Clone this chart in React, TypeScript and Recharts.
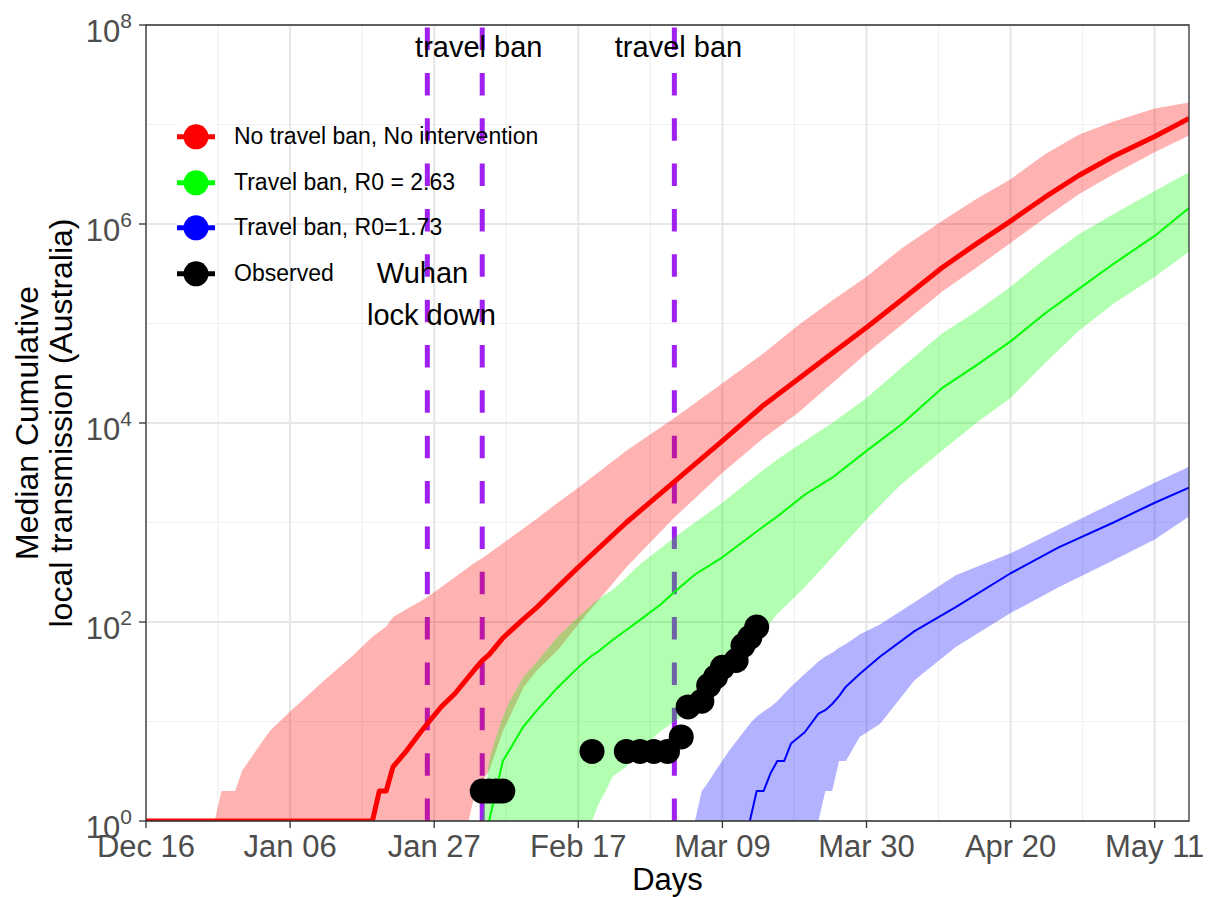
import React from 'react';
import {
  ComposedChart,
  Area,
  Line,
  Scatter,
  XAxis,
  YAxis,
  ReferenceLine,
  ReferenceArea,
  ReferenceDot,
  Label,
} from 'recharts';

const FONT = '"Liberation Sans", Arial, Helvetica, sans-serif';

// x axis: days since Dec 16 2019
const xTickDays = [0, 21, 42, 63, 84, 105, 126, 147];
const xTickLabels = ['Dec 16', 'Jan 06', 'Jan 27', 'Feb 17', 'Mar 09', 'Mar 30', 'Apr 20', 'May 11'];
const xMinorDays = [10.5, 31.5, 52.5, 73.5, 94.5, 115.5, 136.5];
const yTicks = [1, 1e2, 1e4, 1e6, 1e8];
const yTickExponents = ['0', '2', '4', '6', '8'];
const yMinorTicks = [1e1, 1e3, 1e5, 1e7];

// No travel ban, No intervention
const redDays = [0, 10, 11, 13, 14, 18, 21, 26, 30, 33, 34, 35, 36, 38, 40, 41, 43, 45, 47, 48, 49, 50, 52, 55, 57, 60, 63, 70, 77, 84, 90, 95, 100, 105, 110, 116, 121, 126, 131, 136, 141, 147, 152];
const redMedian = [1, 1, 1, 1, 1, 1, 1, 1, 1, 1, 2, 2, 3.5, 5.1, 7.8, 9.5, 14, 19, 28, 34, 41, 47, 69, 107, 141, 224, 355, 1000, 2570, 6600, 15100, 27500, 50100, 91200, 170000, 363000, 631000, 1070000, 1860000, 3090000, 4790000, 7590000, 11500000];
const redLow = [1, 1, 1, 1, 1, 1, 1, 1, 1, 1, 1, 1, 1, 1, 1, 1, 1, 1, 1, 2, 2.5, 3.2, 8, 22, 33, 52, 95, 355, 1120, 3160, 7080, 12600, 25100, 50100, 95500, 209000, 363000, 646000, 1150000, 2000000, 3160000, 5250000, 7760000];
const redHigh = [1, 1, 2, 2, 3.2, 8, 12.6, 26, 45, 71, 80, 90, 112, 135, 162, 178, 224, 282, 355, 398, 436, 490, 617, 871, 1100, 1580, 2240, 5250, 11200, 25100, 50100, 95500, 170000, 295000, 562000, 1070000, 1780000, 2820000, 5010000, 7940000, 10700000, 14500000, 16600000];

// Travel ban, R0 = 2.63
const greenDays = [49, 50, 51, 52, 53, 55, 57, 60, 63, 65, 66, 67, 68, 70, 72, 75, 77, 80, 84, 89, 92, 96, 100, 105, 110, 116, 121, 126, 131, 136, 141, 147, 152];
const greenMedian = [null, 1, 2, 4, 5.2, 8.9, 13, 22, 35, 46, 51, 58, 66, 83, 105, 150, 200, 300, 447, 813, 1150, 1900, 2820, 5250, 9550, 22400, 38000, 66100, 126000, 224000, 398000, 759000, 1450000];
const greenLow = [1, 1, 1, 1, 1, 1, 1, 1, 1, 1, 1.5, 2, 2.8, 3.5, 5.2, 8, 10, 14, 28, 66, 120, 224, 447, 1070, 2400, 5250, 10000, 17800, 39800, 85100, 158000, 295000, 525000];
const greenHigh = [1, 4, 7, 11, 16, 28, 40, 71, 112, 150, 170, 190, 210, 282, 380, 550, 708, 1000, 1580, 3000, 4300, 6600, 10000, 17800, 35500, 79400, 132000, 234000, 447000, 794000, 1260000, 2140000, 3310000];

// Travel ban, R0=1.73
const blueDays = [80, 81, 82, 83, 85, 88, 89, 90, 91, 92, 93, 94, 96, 98, 99, 100, 101, 102, 104, 107, 112, 118, 126, 133, 141, 147, 152];
const blueMedian = [null, null, null, null, null, 1, 2, 2, 3, 4, 4, 6, 7.8, 12, 13, 15, 18, 22.4, 30, 45, 81, 141, 309, 562, 1000, 1580, 2240];
const blueLow = [1, 1, 1, 1, 1, 1, 1, 1, 1, 1, 1, 1, 1, 1, 2, 2, 4, 4, 7, 9.5, 26, 56, 123, 224, 417, 676, 1150];
const blueHigh = [1, 2, 2.5, 3.2, 5.1, 9.5, 11.2, 12.6, 14, 16, 19, 22.4, 30, 40, 45, 49, 55, 60, 75, 95, 158, 295, 490, 851, 1580, 2510, 3630];

// Observed cumulative local transmission
const obsDays = [49, 50, 51, 52, 65, 70, 72, 74, 76, 78, 79, 81, 82, 83, 84, 86, 87, 88, 89];
const obsCounts = [2, 2, 2, 2, 5, 5, 5, 5, 5, 7, 14, 16, 23, 28, 35, 41, 58, 70, 89];

// interventions (Wuhan lock down, travel bans)
const eventDays = [41, 49, 77];
const noteTexts = ['travel ban', 'travel ban', 'Wuhan', 'lock down'];
const noteDays = [48.5, 77.6, 40.3, 41.6];
const noteCounts = [6.05e7, 6.05e7, 3.23e5, 1.22e5];

const legendLabels = ['No travel ban, No intervention', 'Travel ban, R0 = 2.63', 'Travel ban, R0=1.73', 'Observed'];
const legendColors = ['#FF0000', '#00FF00', '#0000FF', '#000000'];

const toRows = (days: number[], mid: (number | null)[], low: number[], high: number[]) =>
  days.map((day, i) => ({ day, median: mid[i], range: [low[i], high[i]] }));

const redData = toRows(redDays, redMedian, redLow, redHigh);
const greenData = toRows(greenDays, greenMedian, greenLow, greenHigh);
const blueData = toRows(blueDays, blueMedian, blueLow, blueHigh);
const obsData = obsDays.map((day, i) => ({ day, count: obsCounts[i] }));

const XTick = (props: any) => {
  const { x, y, payload } = props;
  const label = xTickLabels[xTickDays.indexOf(payload.value)];
  return (
    <text x={x} y={y + 27} textAnchor="middle" fill="#4D4D4D" fontSize={31} fontFamily={FONT}>
      {label}
    </text>
  );
};

const YTick = (props: any) => {
  const { x, y, payload } = props;
  const exp = yTickExponents[yTicks.indexOf(payload.value)];
  return (
    <text x={x - 5} y={y + 17} textAnchor="end" fill="#4D4D4D" fontSize={31} fontFamily={FONT}>
      <tspan>10</tspan>
      <tspan dy={-14} fontSize={21}>{exp}</tspan>
    </text>
  );
};

const YTitle = (props: any) => {
  const { viewBox } = props;
  const cy = viewBox.y + viewBox.height / 2;
  const x1 = viewBox.x + 38;
  const x2 = viewBox.x + 72;
  return (
    <g fontFamily={FONT} fontSize={32} fill="#000">
      <text x={x1} y={cy} textAnchor="middle" transform={`rotate(-90, ${x1}, ${cy})`}>
        Median Cumulative
      </text>
      <text x={x2} y={cy} textAnchor="middle" transform={`rotate(-90, ${x2}, ${cy})`}>
        local transmission (Australia)
      </text>
    </g>
  );
};

const XTitle = (props: any) => {
  const { viewBox } = props;
  return (
    <text
      x={viewBox.x + viewBox.width / 2}
      y={viewBox.y + 69}
      textAnchor="middle"
      fontFamily={FONT}
      fontSize={31}
      fill="#000"
    >
      Days
    </text>
  );
};

const ObsDot = (props: any) => <circle cx={props.cx} cy={props.cy} r={12.5} fill="#000" />;

export default function App() {
  return (
    <div style={{ position: 'absolute', left: 0, top: 0, width: 1210, height: 897, background: '#fff' }}>
      <ComposedChart width={1210} height={897} margin={{ top: 25, right: 21, bottom: 0, left: 0 }}>
        <XAxis
          type="number"
          dataKey="day"
          domain={[0, 152]}
          ticks={xTickDays}
          interval={0}
          allowDataOverflow
          axisLine={false}
          tickSize={7}
          tickMargin={2}
          tickLine={{ stroke: '#333333', strokeWidth: 1.3 }}
          tick={<XTick />}
          height={76}
        >
          <Label content={<XTitle />} />
        </XAxis>
        <YAxis
          type="number"
          scale="log"
          domain={[1, 1e8]}
          ticks={yTicks}
          interval={0}
          allowDataOverflow
          axisLine={false}
          tickSize={7}
          tickMargin={2}
          tickLine={{ stroke: '#333333', strokeWidth: 1.3 }}
          tick={<YTick />}
          width={146}
        >
          <Label content={<YTitle />} />
        </YAxis>

        {xMinorDays.map((d) => (
          <ReferenceLine key={'xm' + d} x={d} stroke="#F0F0F0" strokeWidth={1.2} zIndex={-100} />
        ))}
        {yMinorTicks.map((v) => (
          <ReferenceLine key={'ym' + v} y={v} stroke="#F0F0F0" strokeWidth={1.2} zIndex={-100} />
        ))}
        {xTickDays.map((d) => (
          <ReferenceLine key={'xM' + d} x={d} stroke="#E6E6E6" strokeWidth={2} zIndex={-100} />
        ))}
        {yTicks.map((v) => (
          <ReferenceLine key={'yM' + v} y={v} stroke="#E6E6E6" strokeWidth={2} zIndex={-100} />
        ))}
        {eventDays.map((d) => (
          <ReferenceLine
            key={'ev' + d}
            x={d}
            stroke="#A020F0"
            strokeWidth={5}
            strokeDasharray="22.5 22.85"
            zIndex={50}
          />
        ))}

        <Area data={redData} dataKey="range" type="linear" fill="#FF0000" fillOpacity={0.3} stroke="none" isAnimationActive={false} />
        <Area data={greenData} dataKey="range" type="linear" fill="#00FF00" fillOpacity={0.3} stroke="none" isAnimationActive={false} />
        <Area data={blueData} dataKey="range" type="linear" fill="#0000FF" fillOpacity={0.3} stroke="none" isAnimationActive={false} />

        <Line data={redData} dataKey="median" type="linear" stroke="#FF0000" strokeWidth={5} strokeLinejoin="round" dot={false} activeDot={false} isAnimationActive={false} />
        <Line data={greenData} dataKey="median" type="linear" stroke="#00FF00" strokeWidth={2} strokeLinejoin="round" dot={false} activeDot={false} isAnimationActive={false} />
        <Line data={blueData} dataKey="median" type="linear" stroke="#0000FF" strokeWidth={2} strokeLinejoin="round" dot={false} activeDot={false} isAnimationActive={false} />

        <Scatter data={obsData} dataKey="count" fill="#000" shape={<ObsDot />} isAnimationActive={false} />

        {noteTexts.map((t, i) => (
          <ReferenceDot
            key={'note' + i}
            x={noteDays[i]}
            y={noteCounts[i]}
            r={1}
            fill="none"
            stroke="none"
            zIndex={2000}
            label={{ value: t, position: 'center', fill: '#000', fontSize: 29, fontFamily: FONT }}
          />
        ))}

        <ReferenceArea x1={0} x2={152} y1={1} y2={1e8} fill="none" stroke="#333333" strokeWidth={1.3} zIndex={1500} />
      </ComposedChart>

      <div style={{ position: 'absolute', left: 177, top: 114, fontFamily: FONT, fontSize: 23, color: '#000' }}>
        {legendLabels.map((lab, i) => (
          <div key={lab} style={{ display: 'flex', alignItems: 'center', height: 45.7 }}>
            <svg width={38} height={45.7} style={{ background: '#fff', display: 'block' }}>
              <line x1={0} x2={38} y1={22.85} y2={22.85} stroke={legendColors[i]} strokeWidth={5} />
              <circle cx={19} cy={22.85} r={12.5} fill={legendColors[i]} />
            </svg>
            <span style={{ marginLeft: 19, lineHeight: '45.7px', whiteSpace: 'nowrap' }}>{lab}</span>
          </div>
        ))}
      </div>
    </div>
  );
}
